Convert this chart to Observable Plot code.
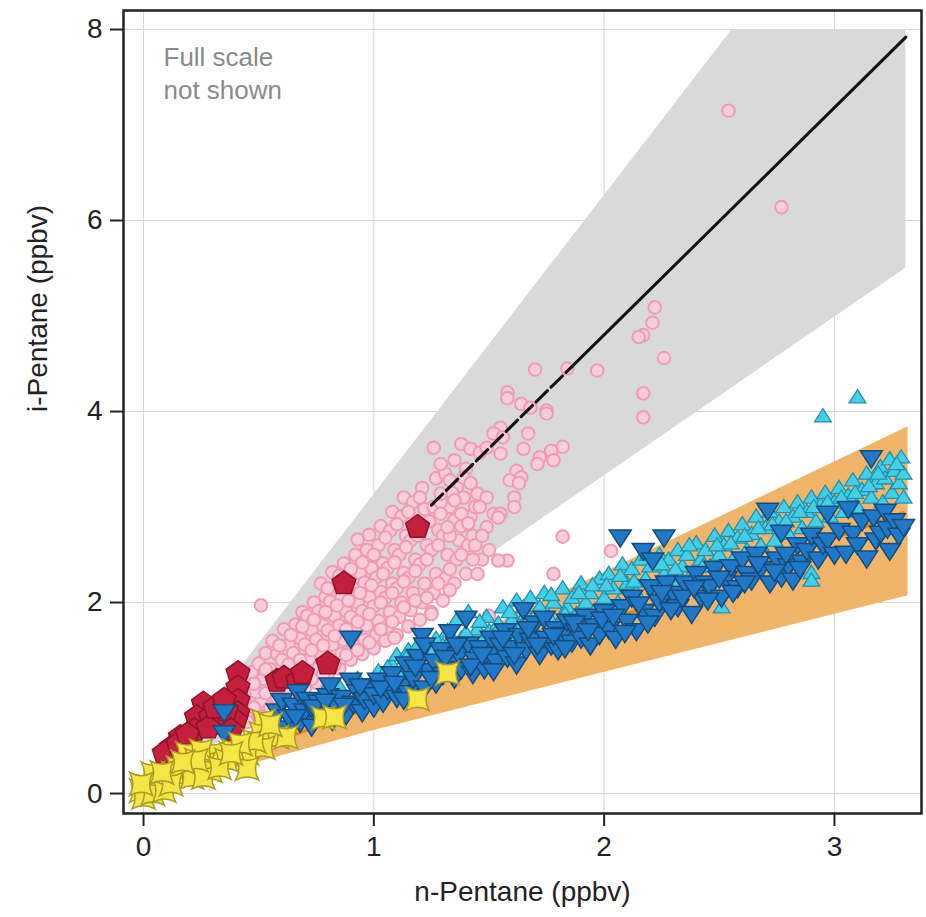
<!DOCTYPE html>
<html><head><meta charset="utf-8">
<script src="https://cdn.jsdelivr.net/npm/d3@7"></script>
<script src="https://cdn.jsdelivr.net/npm/@observablehq/plot@0.6"></script>
<style>body{margin:0;background:#fff;}</style>
</head><body><div id="chart"></div>
<script>
// ---------- data ----------
const xTicks = [0, 1, 2, 3];
const yTicks = [0, 2, 4, 6, 8];
const xLabel = "n-Pentane (ppbv)";
const yLabel = "i-Pentane (ppbv)";
const note = "Full scale\nnot shown";

const grayBandX = [0, 2.556, 3.31];
const grayBandLo = [0, 4.25, 5.50];
const grayBandHi = [0, 8.0, 8.0];
const orangeBandX = [0, 1.0, 3.32];
const orangeBandLo = [0, 0.66, 2.07];
const orangeBandHi = [0, 1.16, 3.84];

const blackFitDashedX = [1.25, 1.86];
const blackFitDashedY = [3.02, 4.47];
const blackFitSolidX = [1.86, 3.31];
const blackFitSolidY = [4.47, 7.92];
const orangeFitX = [0.5, 3.30];
const orangeFitY = [0.48, 2.94];

const pink = [
[0.32,0.72],[0.36,0.8],[0.4,0.95],
[0.45,0.75],[0.44,0.95],[0.46,1.1],[0.47,1.27],
[0.5,0.82],[0.51,0.97],[0.49,1.06],[0.52,1.2],[0.5,1.36],[0.53,1.47],
[0.55,0.9],[0.56,1.02],[0.57,1.15],[0.55,1.3],[0.58,1.46],[0.56,1.6],
[0.6,0.96],[0.61,1.1],[0.62,1.25],[0.6,1.4],[0.63,1.56],[0.61,1.72],
[0.65,1.02],[0.66,1.16],[0.67,1.32],[0.65,1.47],[0.68,1.62],[0.66,1.77],[0.69,1.9],
[0.7,1.1],[0.71,1.26],[0.72,1.41],[0.7,1.56],[0.73,1.71],[0.71,1.86],[0.74,2.0],
[0.75,1.16],[0.76,1.31],[0.77,1.46],[0.75,1.61],[0.78,1.76],[0.76,1.91],[0.79,2.06],[0.77,2.2],
[0.8,1.25],[0.81,1.4],[0.82,1.56],[0.8,1.71],[0.83,1.86],[0.81,2.01],[0.84,2.16],[0.82,2.32],
[0.85,1.31],[0.86,1.46],[0.87,1.61],[0.85,1.76],[0.88,1.91],[0.86,2.06],[0.89,2.21],[0.87,2.41],
[0.9,1.4],[0.91,1.55],[0.92,1.7],[0.9,1.85],[0.93,2.0],[0.91,2.15],[0.94,2.31],[0.92,2.5],[0.93,2.66],
[0.95,1.46],[0.96,1.61],[0.97,1.76],[0.95,1.91],[0.98,2.06],[0.96,2.21],[0.99,2.36],[0.97,2.55],[0.98,2.71],
[1.0,1.52],[1.01,1.66],[1.02,1.81],[1.0,1.96],[1.03,2.11],[1.01,2.26],[1.04,2.41],[1.02,2.6],[1.03,2.8],
[1.05,1.6],[1.06,1.75],[1.07,1.9],[1.05,2.05],[1.08,2.2],[1.06,2.36],[1.09,2.55],[1.07,2.75],[1.08,2.95],
[1.1,1.66],[1.11,1.85],[1.12,2.0],[1.1,2.15],[1.13,2.31],[1.11,2.5],[1.14,2.7],[1.12,2.9],[1.13,3.1],
[1.15,1.75],[1.16,1.92],[1.17,2.1],[1.15,2.26],[1.18,2.45],[1.16,2.65],[1.19,2.85],[1.17,3.05],
[1.2,1.82],[1.21,2.0],[1.22,2.2],[1.2,2.4],[1.23,2.6],[1.22,2.98],[1.21,3.2],
[1.25,1.9],[1.26,2.1],[1.27,2.3],[1.25,2.55],[1.28,2.76],[1.26,3.0],[1.27,3.3],
[1.3,2.02],[1.31,2.25],[1.32,2.5],[1.3,2.7],[1.33,3.0],[1.31,3.35],
[1.35,2.2],[1.36,2.45],[1.37,2.65],[1.35,2.86],[1.36,3.2],
[1.4,2.3],[1.41,2.6],[1.42,2.9],[1.4,3.4],
[0.48,0.9],[0.48,1.15],[0.53,1.05],[0.53,1.3],[0.58,1.0],[0.58,1.22],[0.59,1.55],[0.63,1.05],[0.63,1.35],
[0.64,1.66],[0.68,1.12],[0.68,1.4],[0.69,1.75],[0.73,1.2],[0.73,1.5],[0.74,1.82],[0.78,1.25],[0.78,1.55],
[0.79,1.9],[0.8,2.15],[0.83,1.35],[0.83,1.65],[0.84,1.97],[0.85,2.28],[0.88,1.45],[0.88,1.72],[0.89,2.02],
[0.9,2.35],[0.93,1.5],[0.93,1.8],[0.94,2.1],[0.95,2.42],[0.98,1.58],[0.98,1.88],[0.99,2.18],[1.0,2.5],
[1.03,1.72],[1.03,2.0],[1.04,2.3],[1.05,2.68],[1.08,1.8],[1.08,2.1],[1.09,2.42],[1.1,2.82],[1.13,1.95],
[1.13,2.22],[1.14,2.58],[1.15,2.95],[1.18,2.02],[1.18,2.33],[1.19,2.7],[1.2,3.1],[1.23,2.05],[1.23,2.45],
[1.24,2.85],[1.28,2.2],[1.28,2.6],[1.29,3.05],[1.33,2.35],[1.33,2.7],[1.34,3.15],[1.38,2.5],[1.38,2.8],
[1.39,3.1],[1.43,2.7],[1.44,3.0],[1.47,2.45],
[2.54,7.15],[2.77,6.14],[2.22,5.09],[2.21,4.93],[2.17,4.80],[2.15,4.78],[2.26,4.56],[2.17,4.19],[2.17,3.94],
[1.97,4.43],[1.84,4.45],[1.70,4.44],[1.58,4.20],[1.58,4.14],[1.64,4.08],[1.68,4.04],[1.75,4.01],[1.75,3.98],
[1.67,3.77],[1.55,3.83],[1.52,3.77],[1.56,3.73],[1.26,3.62],[1.38,3.66],[1.42,3.61],[1.46,3.57],[1.49,3.62],
[1.55,3.56],[1.65,3.61],[1.82,3.63],[1.77,3.59],[1.72,3.52],[1.71,3.45],[1.78,3.49],[1.62,3.38],[1.64,3.31],
[1.59,3.28],[1.63,3.25],[1.35,3.49],[1.29,3.45],[1.33,3.28],[1.39,3.31],[1.42,3.25],[1.45,3.14],[1.49,3.10],
[1.46,3.00],[1.52,2.93],[1.55,2.93],[1.61,3.10],[1.61,3.00],[1.29,3.14],[1.35,3.07],[1.38,2.93],[1.29,2.93],
[1.32,2.79],[1.41,2.83],[1.49,2.79],[1.54,2.89],[1.82,2.69],[1.58,2.44],[1.54,2.44],[1.45,2.30],[1.78,2.30],
[2.03,2.54],[1.33,2.13],[1.25,1.88],[1.50,1.86],[1.09,1.63],[0.51,1.97],[1.44,2.6],[1.47,2.7],[1.5,2.55],[1.43,2.45]
];

const red = [
[1.19,2.79],[0.87,2.20],[0.80,1.36],[0.58,1.18],[0.61,1.21],[0.67,1.18],[0.69,1.26],
[0.41,1.26],[0.41,1.11],[0.41,0.97],[0.41,0.84],[0.40,0.76],[0.26,0.94],[0.23,0.80],[0.29,0.80],
[0.33,0.73],[0.22,0.66],[0.16,0.59],[0.12,0.48],[0.09,0.42],[0.36,0.87],[0.28,0.69],[0.38,0.66],
[0.15,0.52],[0.19,0.62],[0.31,0.9],[0.35,0.98]
];

const cyan = [
[0.72,0.98],[0.78,1.05],[0.85,1.12],[0.88,1.0],[0.93,1.2],[0.97,1.1],
[1.02,1.28],[1.05,1.2],[1.08,1.35],[1.1,1.45],[1.12,1.25],[1.15,1.5],[1.17,1.38],[1.2,1.3],[1.22,1.58],
[1.24,1.45],[1.27,1.62],[1.28,1.4],[1.3,1.55],
[1.32,1.7],[1.35,1.5],[1.36,1.82],[1.38,1.62],[1.41,1.9],[1.42,1.5],[1.45,1.72],[1.47,1.6],[1.49,1.85],
[1.5,1.7],[1.52,1.55],[1.54,1.78],[1.56,1.95],[1.58,1.65],[1.6,1.82],
[1.62,2.02],[1.64,1.75],[1.66,1.88],[1.68,2.05],[1.7,1.7],[1.72,1.95],[1.74,2.1],[1.76,1.85],[1.78,2.0],
[1.8,1.78],[1.82,2.15],[1.84,1.95],[1.86,2.05],[1.88,1.88],[1.9,2.2],[1.92,2.0],[1.94,2.1],[1.96,1.92],[1.98,2.25],
[2.0,2.05],[2.02,2.3],[2.04,2.15],[2.06,2.0],[2.08,2.4],[2.1,2.2],[2.12,2.35],[2.14,2.1],[2.16,2.45],
[2.18,2.25],[2.2,2.38],[2.22,2.15],[2.24,2.5],[2.26,2.3],[2.28,2.45],[2.3,2.2],[2.32,2.55],[2.34,2.38],
[2.36,2.5],[2.38,2.3],[2.4,2.62],[2.42,2.45],[2.44,2.55],[2.46,2.38],[2.48,2.7],[2.5,2.5],
[2.51,1.95],[2.52,2.6],[2.54,2.75],[2.56,2.45],[2.58,2.68],[2.6,2.82],[2.62,2.55],[2.64,2.72],[2.66,2.9],
[2.68,2.6],[2.7,2.78],[2.72,2.95],[2.74,2.65],[2.76,2.85],[2.78,3.0],[2.8,2.72],[2.82,2.9],[2.84,3.05],
[2.86,2.78],[2.88,2.95],[2.9,2.31],[2.9,2.23],[2.9,3.1],[2.92,2.85],[2.94,3.02],[2.95,3.95],[2.96,3.15],[2.98,2.9],
[3.0,3.05],[3.02,3.2],[3.04,2.95],[3.06,3.12],[3.08,3.28],[3.1,4.15],[3.1,3.0],[3.12,3.18],[3.14,3.35],
[3.16,3.1],[3.18,3.25],[3.2,3.42],[3.21,3.05],[3.22,3.3],[3.24,3.5],[3.25,3.15],[3.26,3.38],[3.28,3.25],
[3.29,3.52],[3.3,3.35],[3.3,3.1],
[1.0,1.15],[1.06,1.32],[1.14,1.42],[1.19,1.55],[1.26,1.5],[1.33,1.6],[1.4,1.68],[1.46,1.8],[1.53,1.68],
[1.59,1.9],[1.65,1.95],[1.71,1.82],[1.77,2.08],[1.83,1.88],[1.89,2.1],[1.95,2.18],[2.01,2.18],[2.07,2.28],
[2.13,2.22],[2.19,2.5],[2.25,2.4],[2.31,2.35],[2.37,2.6],[2.43,2.38],[2.49,2.6],[2.55,2.62],[2.61,2.7],
[2.67,2.78],[2.73,2.82],[2.79,2.85],[2.85,2.95],[2.91,3.0],[2.97,3.05],[3.03,3.1],[3.09,3.15],[3.15,3.22],
[3.19,3.35],[3.27,3.45]
];

const blue = [
[0.35,0.85],[0.35,0.63],
[0.56,0.74],[0.58,0.86],[0.6,0.97],[0.62,0.68],[0.63,0.80],[0.65,0.92],[0.67,1.06],[0.68,0.74],[0.7,0.86],
[0.71,0.98],[0.73,0.70],[0.75,0.82],[0.76,0.95],
[0.78,0.88],[0.8,1.02],[0.81,1.13],[0.82,0.76],[0.84,0.90],[0.86,1.00],[0.88,0.82],[0.9,1.18],[0.9,1.62],
[0.91,0.94],[0.93,1.06],[0.95,0.85],[0.96,0.98],[0.98,1.12],[1.0,0.9],[1.0,1.03],
[1.02,1.18],[1.04,0.95],[1.06,1.08],[1.08,1.25],[1.1,1.0],[1.12,1.12],[1.14,1.35],[1.15,1.05],[1.17,1.2],
[1.19,1.43],[1.21,1.65],[1.22,1.55],[1.22,1.1],[1.24,1.28],[1.26,1.38],[1.27,1.15],[1.29,1.5],[1.3,1.24],
[1.33,1.69],[1.33,1.36],[1.35,1.2],[1.37,1.45],[1.38,1.3],[1.40,1.83],[1.41,1.56],[1.43,1.25],[1.44,1.4],
[1.46,1.52],[1.48,1.3],[1.5,1.45],[1.51,1.62],[1.53,1.38],[1.55,1.55],[1.57,1.7],[1.58,1.42],[1.6,1.52],
[1.62,1.35],[1.63,1.65],[1.65,1.92],[1.66,1.5],[1.68,1.6],[1.7,1.78],[1.72,1.45],[1.74,1.83],[1.75,1.62],
[1.77,1.55],[1.79,1.72],[1.8,1.5],[1.82,1.66],[1.84,1.8],[1.86,1.58],[1.88,1.70],[1.9,1.62],[1.92,1.85],
[1.94,1.55],[1.96,1.75],[1.98,1.66],
[2.0,1.9],[2.02,1.72],[2.05,1.62],[2.07,2.68],[2.08,1.95],[2.1,1.8],[2.12,2.05],[2.14,1.7],[2.17,2.54],
[2.17,1.9],[2.2,2.16],[2.21,2.44],[2.22,1.85],[2.24,2.0],[2.26,2.68],[2.27,2.2],[2.3,2.09],[2.32,1.95],
[2.35,2.2],[2.38,1.88],[2.4,2.3],[2.42,2.05],[2.44,2.2],[2.46,2.16],[2.48,2.35],
[2.51,2.05],[2.53,2.25],[2.55,2.37],[2.58,2.15],[2.6,2.45],[2.62,2.3],[2.64,2.23],[2.66,2.5],[2.68,2.35],
[2.71,2.96],[2.72,2.2],[2.75,2.45],[2.77,2.26],[2.77,2.73],[2.8,2.38],[2.82,2.23],[2.84,2.6],[2.86,2.42],
[2.88,2.54],[2.9,2.7],[2.93,2.45],[2.95,2.6],[2.97,2.93],[2.97,2.65],[3.0,2.5],[3.02,2.75],[3.05,2.51],
[3.06,2.98],[3.08,2.72],[3.1,2.6],[3.12,2.85],[3.14,2.46],[3.16,3.51],[3.17,2.89],[3.18,2.65],[3.2,2.72],
[3.22,2.95],[3.23,2.77],[3.24,2.54],[3.26,2.85],[3.28,2.7],[3.30,2.79],
[0.66,0.8],[0.74,0.9],[0.79,0.96],[0.87,0.92],[0.94,1.12],[1.03,1.1],[1.09,1.15],[1.13,0.98],[1.18,1.32],
[1.25,1.2],[1.31,1.42],[1.36,1.55],[1.42,1.33],[1.47,1.45],[1.52,1.28],[1.56,1.62],[1.61,1.45],[1.67,1.72],
[1.71,1.55],[1.78,1.65],[1.83,1.52],[1.87,1.78],[1.93,1.7],[1.99,1.82],[2.04,1.85],[2.09,1.68],[2.15,1.98],
[2.19,1.78],[2.25,2.1],[2.29,1.92],[2.34,2.05],[2.39,2.15],[2.45,2.02],[2.5,2.25],[2.56,2.1],[2.61,2.2],
[2.67,2.4],[2.74,2.32],[2.79,2.5],[2.85,2.35]
];

const yellow = [
[1.32,1.26],[1.19,0.99],[0.78,0.79],[0.83,0.80],[0.52,0.76],[0.51,0.63],[0.58,0.59],[0.62,0.59],[0.52,0.48],
[0.45,0.42],[0.39,0.45],[0.33,0.38],[0.30,0.42],[0.45,0.26],[0.26,0.31],[0.20,0.24],[0.13,0.21],[0.07,0.14],
[0.03,0.07],[-0.01,0.03],[0.0,-0.04],[0.04,0.0],[0.19,0.42],[0.25,0.45],[0.15,0.27],[0.21,0.17],[0.29,0.24],
[0.36,0.35],[0.26,0.17],[0.33,0.27],[0.48,0.55],[0.42,0.52],[0.38,0.42],[0.09,0.03],[0.04,0.21],[-0.01,0.10],
[0.12,0.10],[0.55,0.72],[0.23,0.35],[0.17,0.33],[0.08,0.22]
];

// ---------- symbols ----------
const rad = s => Math.sqrt(s / Math.PI);
const pentagon = {draw(c, s) { const r = rad(s); for (let i = 0; i < 5; i++) { const a = -Math.PI/2 + i*2*Math.PI/5; const px = r*Math.cos(a), py = r*Math.sin(a); if (i) c.lineTo(px, py); else c.moveTo(px, py); } c.closePath(); }};
const triDown = {draw(c, s) { const r = rad(s); c.moveTo(-1.1*r, -0.75*r); c.lineTo(1.1*r, -0.75*r); c.lineTo(0, 0.95*r); c.closePath(); }};
const triUp = {draw(c, s) { const r = rad(s); c.moveTo(0, -0.95*r); c.lineTo(1.05*r, 0.7*r); c.lineTo(-1.05*r, 0.7*r); c.closePath(); }};
const concave = {draw(c, s) { const r = rad(s); const k = 0.45*r; c.moveTo(-r, -r); c.quadraticCurveTo(0, -k, r, -r); c.quadraticCurveTo(k, 0, r, r); c.quadraticCurveTo(0, k, -r, r); c.quadraticCurveTo(-k, 0, -r, -r); c.closePath(); }};

const band = (xs, lo, hi) => xs.map((x, i) => ({x, lo: lo[i], hi: hi[i]}));
const seg = (xs, ys) => xs.map((x, i) => ({x, y: ys[i]}));
const X = d => d[0], Y = d => d[1];

const chart = Plot.plot({
  width: 926, height: 917,
  marginLeft: 123, marginRight: 5, marginTop: 10, marginBottom: 104,
  x: {domain: [-0.087, 3.378]},
  y: {domain: [-0.209, 8.199]},
  style: {fontFamily: "'Liberation Sans', Arial, sans-serif", fontSize: "28px", color: "#222", background: "white"},
  marks: [
    Plot.ruleX(xTicks, {stroke: "#d6d6d6", strokeWidth: 1}),
    Plot.ruleY(yTicks, {stroke: "#d6d6d6", strokeWidth: 1}),
    Plot.areaY(band(grayBandX, grayBandLo, grayBandHi), {x: "x", y1: "lo", y2: "hi", fill: "#d9d9d9"}),
    Plot.areaY(band(orangeBandX, orangeBandLo, orangeBandHi), {x: "x", y1: "lo", y2: "hi", fill: "#f1b56a"}),
    Plot.line(seg(orangeFitX, orangeFitY), {x: "x", y: "y", stroke: "#e08a1e", strokeWidth: 3.5}),
    Plot.dot(pink, {x: X, y: Y, r: 6.3, fill: "#f7cdd9", stroke: "#f19ab5", strokeWidth: 2}),
    Plot.line(seg(blackFitDashedX, blackFitDashedY), {x: "x", y: "y", stroke: "#111", strokeWidth: 3, strokeDasharray: "16,5"}),
    Plot.line(seg(blackFitSolidX, blackFitSolidY), {x: "x", y: "y", stroke: "#111", strokeWidth: 3}),
    Plot.dot(red, {x: X, y: Y, r: 12.5, symbol: pentagon, fill: "#c41f3d", stroke: "#8e1429", strokeWidth: 1.5}),
    Plot.dot(cyan, {x: X, y: Y, r: 8, symbol: triUp, fill: "#45cfe6", stroke: "#2290ad", strokeWidth: 1.3}),
    Plot.dot(blue, {x: X, y: Y, r: 10, symbol: triDown, fill: "#1f78c8", stroke: "#164a78", strokeWidth: 1.5}),
    Plot.dot(yellow, {x: X, y: Y, r: 11.5, symbol: concave, fill: "#f6e545", stroke: "#a99c22", strokeWidth: 1.5}),
    Plot.frame({stroke: "#222", strokeWidth: 2.5}),
    Plot.axisX({ticks: xTicks, tickFormat: d => String(d), tickSize: 13, tickPadding: 10, strokeWidth: 2, fontSize: 28, label: null}),
    Plot.axisY({ticks: yTicks, tickFormat: d => String(d), tickSize: 13, tickPadding: 8, strokeWidth: 2, fontSize: 28, label: null}),
    Plot.text([xLabel], {text: d => d, frameAnchor: "bottom", dy: 87, fontSize: 28}),
    Plot.text([yLabel], {text: d => d, frameAnchor: "left", dx: -85, rotate: -90, fontSize: 28}),
    Plot.text([note], {text: d => d, frameAnchor: "top-left", dx: 40, dy: 31, textAnchor: "start", lineAnchor: "top", fontSize: 26, fill: "#8a8a8a", lineHeight: 1.3})
  ]
});
document.getElementById("chart").append(chart);
</script></body></html>
